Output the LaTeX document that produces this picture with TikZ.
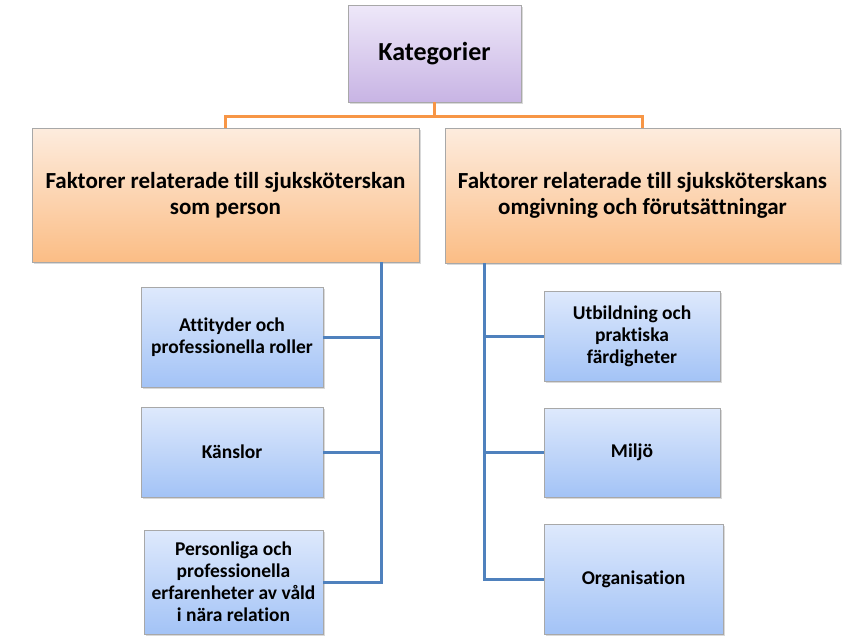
\documentclass[tikz,border=0pt]{standalone}
\usepackage{fontspec}
\setmainfont{Carlito}[Ligatures=CommonOff]
\usetikzlibrary{positioning,calc,shadows}
\definecolor{katTop}{RGB}{238,232,249}
\definecolor{katBot}{RGB}{200,180,228}
\definecolor{grpTop}{RGB}{253,236,222}
\definecolor{grpBot}{RGB}{251,189,133}
\definecolor{itmTop}{RGB}{222,233,252}
\definecolor{itmBot}{RGB}{163,195,246}
\definecolor{boxrim}{RGB}{168,168,168}
\definecolor{orangeline}{RGB}{247,150,70}
\definecolor{blueline}{RGB}{79,129,189}

\begin{document}
\begin{tikzpicture}[x=1pt,y=-1pt,
    box/.style={draw=boxrim,line width=0.8pt,inner sep=0pt,align=center,
      font=\bfseries,drop shadow={shadow xshift=2pt,shadow yshift=-2pt,opacity=0.3}},
    katbox/.style={box,top color=katTop,bottom color=katBot,
      font=\bfseries\fontsize{26}{30}\selectfont},
    grpbox/.style={box,top color=grpTop,bottom color=grpBot,
      font=\bfseries\fontsize{23}{26}\selectfont},
    itmbox/.style={box,top color=itmTop,bottom color=itmBot,
      font=\bfseries\fontsize{19.5}{22}\selectfont},
    orangelink/.style={orangeline,line width=3pt},
    bluelink/.style={blueline,line width=3pt}]
  \useasboundingbox (0,0) rectangle (847,643);
  \node[katbox,minimum width=173pt,minimum height=97pt] (kat) at (434.5,53.5) {Kategorier};
  \node[grpbox,minimum width=387pt,minimum height=134pt] (pers) at (225.5,195)
    {Faktorer relaterade till sjuksköterskan\\som person};
  \node[grpbox,minimum width=395pt,minimum height=135pt] (omg) at (642.5,195.5)
    {Faktorer relaterade till sjuksköterskans\\omgivning och förutsättningar};
  % left column
  \node[itmbox,minimum width=182pt,minimum height=100pt] (att) at (232,337)
    {Attityder och\\professionella\ roller};
  \node[itmbox,minimum width=182pt,minimum height=90pt] (kans) at (232,452) {Känslor};
  \node[itmbox,minimum width=179pt,minimum height=104pt] (erf) at (233.5,582)
    {Personliga\ och\\professionella\\erfarenheter av våld\\i\ nära\ relation};
  % right column
  \node[itmbox,minimum width=176pt,minimum height=90pt] (utb) at (632,336)
    {Utbildning\ och\\praktiska\\färdigheter};
  \node[itmbox,minimum width=176pt,minimum height=89pt] (milj) at (632,452.5) {Miljö};
  \node[itmbox,minimum width=179pt,minimum height=110pt] (org) at (633.5,579) {Organisation};
  \coordinate (lspine) at (381,262);
  \coordinate (rspine) at (484,263);
  \draw[orangelink] (kat.south) -- ++(0,14) -| (pers.north);
  \draw[orangelink] (kat.south) -- ++(0,14) -| (omg.north);
  \foreach \i in {att,kans,erf}
    \draw[bluelink] (lspine) |- (\i.east);
  \foreach \i in {utb,milj,org}
    \draw[bluelink] (rspine) |- (\i.west);
\end{tikzpicture}
\end{document}
